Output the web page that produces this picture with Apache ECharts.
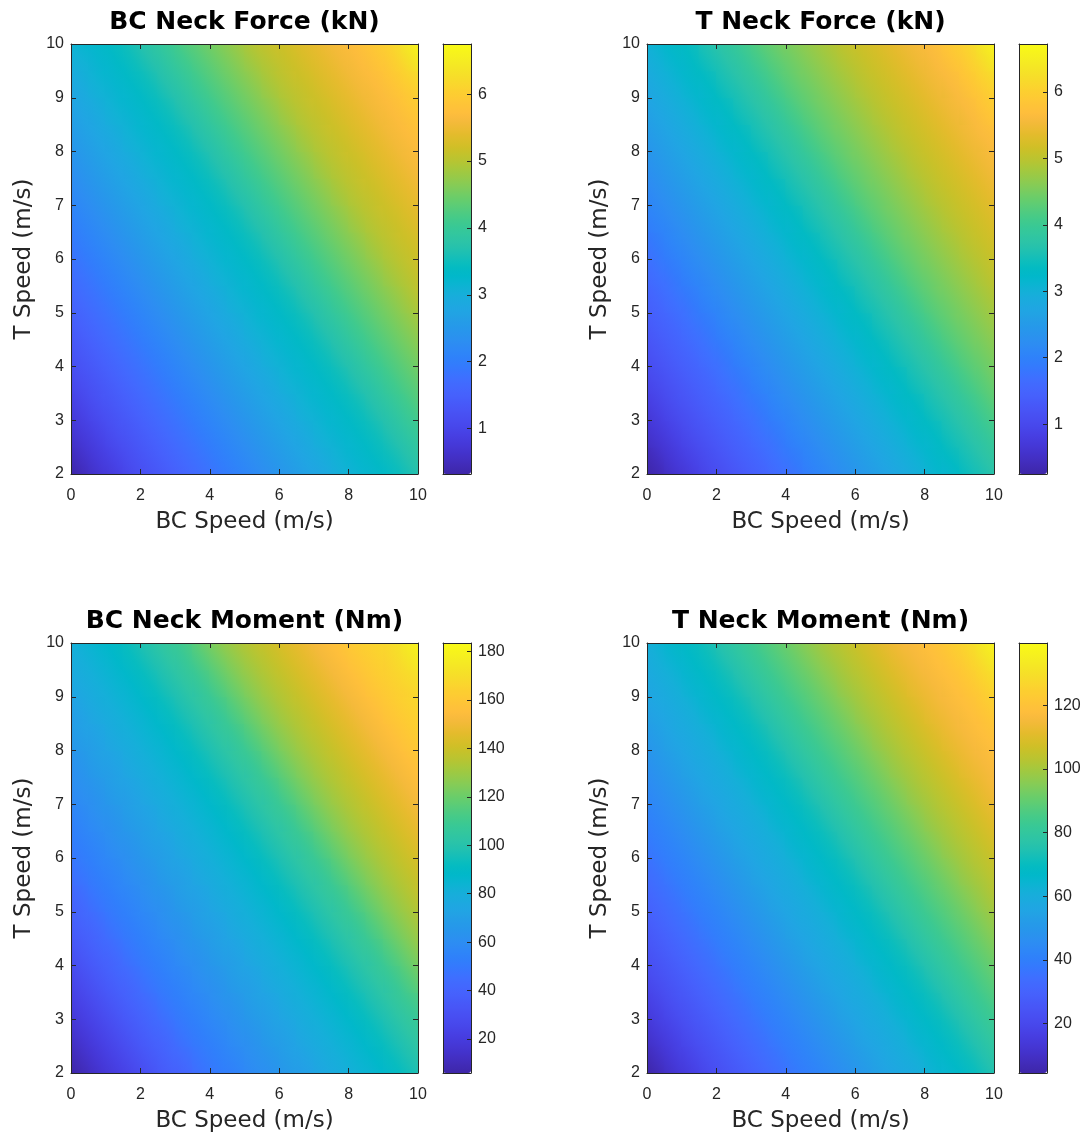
<!DOCTYPE html>
<html>
<head>
<meta charset="utf-8">
<script src="https://cdn.jsdelivr.net/npm/echarts@6/dist/echarts.min.js"></script>
<style>html,body{margin:0;background:#fff}#main{width:1086px;height:1142px}</style>
</head>
<body>
<div id="main"></div>
<script>
// cell centres (m/s)
var xCells = [0.25,0.75,1.25,1.75,2.25,2.75,3.25,3.75,4.25,4.75,5.25,5.75,6.25,6.75,7.25,7.75,8.25,8.75,9.25,9.75];
var yCells = [2.25,2.75,3.25,3.75,4.25,4.75,5.25,5.75,6.25,6.75,7.25,7.75,8.25,8.75,9.25,9.75];

var titles = ['BC Neck Force (kN)', 'T Neck Force (kN)', 'BC Neck Moment (Nm)', 'T Neck Moment (Nm)'];
var colorMin = [0.32, 0.25, 6, 4.5];
var colorMax = [6.75, 6.72, 183.5, 139.5];
var forceTicks = [1,2,3,4,5,6];
var bcMomentTicks = [20,40,60,80,100,120,140,160,180];
var tMomentTicks = [20,40,60,80,100,120];

// rows go from T Speed 2.25 (bottom) up to 9.75 (top), columns BC Speed 0.25 .. 9.75
var bcForce = [
  [0.55,0.77,0.96,1.16,1.32,1.48,1.64,1.80,1.96,2.12,2.28,2.44,2.60,2.76,2.92,3.09,3.21,3.34,3.50,3.70],
  [0.77,0.96,1.16,1.32,1.48,1.64,1.80,1.96,2.12,2.28,2.44,2.60,2.76,2.92,3.09,3.21,3.34,3.50,3.70,3.89],
  [0.96,1.16,1.32,1.48,1.64,1.80,1.96,2.12,2.28,2.44,2.60,2.76,2.92,3.09,3.21,3.34,3.50,3.70,3.89,4.11],
  [1.16,1.32,1.48,1.64,1.80,1.96,2.12,2.28,2.44,2.60,2.76,2.92,3.09,3.21,3.34,3.50,3.70,3.89,4.11,4.31],
  [1.32,1.48,1.64,1.80,1.96,2.12,2.28,2.44,2.60,2.76,2.92,3.09,3.21,3.34,3.50,3.70,3.89,4.11,4.31,4.50],
  [1.48,1.64,1.80,1.96,2.12,2.28,2.44,2.60,2.76,2.92,3.09,3.21,3.34,3.50,3.70,3.89,4.11,4.31,4.50,4.69],
  [1.64,1.80,1.96,2.12,2.28,2.44,2.60,2.76,2.92,3.09,3.21,3.34,3.50,3.70,3.89,4.11,4.31,4.50,4.69,4.89],
  [1.80,1.96,2.12,2.28,2.44,2.60,2.76,2.92,3.09,3.21,3.34,3.50,3.70,3.89,4.11,4.31,4.50,4.69,4.89,5.05],
  [1.96,2.12,2.28,2.44,2.60,2.76,2.92,3.09,3.21,3.34,3.50,3.70,3.89,4.11,4.31,4.50,4.69,4.89,5.05,5.17],
  [2.12,2.28,2.44,2.60,2.76,2.92,3.09,3.21,3.34,3.50,3.70,3.89,4.11,4.31,4.50,4.69,4.89,5.05,5.17,5.30],
  [2.28,2.44,2.60,2.76,2.92,3.09,3.21,3.34,3.50,3.70,3.89,4.11,4.31,4.50,4.69,4.89,5.05,5.17,5.30,5.43],
  [2.44,2.60,2.76,2.92,3.09,3.21,3.34,3.50,3.70,3.89,4.11,4.31,4.50,4.69,4.89,5.05,5.17,5.30,5.43,5.56],
  [2.60,2.76,2.92,3.09,3.21,3.34,3.50,3.70,3.89,4.11,4.31,4.50,4.69,4.89,5.05,5.17,5.30,5.43,5.56,5.69],
  [2.76,2.92,3.09,3.21,3.34,3.50,3.70,3.89,4.11,4.31,4.50,4.69,4.89,5.05,5.17,5.30,5.43,5.56,5.69,5.85],
  [2.92,3.09,3.21,3.34,3.50,3.70,3.89,4.11,4.31,4.50,4.69,4.89,5.05,5.17,5.30,5.43,5.56,5.69,5.85,6.04],
  [3.09,3.21,3.34,3.50,3.70,3.89,4.11,4.31,4.50,4.69,4.89,5.05,5.17,5.30,5.43,5.56,5.69,5.85,6.04,6.33]
];
var tForce = [
  [0.44,0.67,0.86,1.06,1.22,1.38,1.54,1.71,1.87,2.06,2.22,2.39,2.55,2.71,2.87,3.03,3.19,3.32,3.52,3.71],
  [0.67,0.86,1.06,1.22,1.38,1.54,1.71,1.87,2.06,2.22,2.39,2.55,2.71,2.87,3.03,3.19,3.32,3.52,3.71,3.91],
  [0.86,1.06,1.22,1.38,1.54,1.71,1.87,2.06,2.22,2.39,2.55,2.71,2.87,3.03,3.19,3.32,3.52,3.71,3.91,4.13],
  [1.06,1.22,1.38,1.54,1.71,1.87,2.06,2.22,2.39,2.55,2.71,2.87,3.03,3.19,3.32,3.52,3.71,3.91,4.13,4.33],
  [1.22,1.38,1.54,1.71,1.87,2.06,2.22,2.39,2.55,2.71,2.87,3.03,3.19,3.32,3.52,3.71,3.91,4.13,4.33,4.49],
  [1.38,1.54,1.71,1.87,2.06,2.22,2.39,2.55,2.71,2.87,3.03,3.19,3.32,3.52,3.71,3.91,4.13,4.33,4.49,4.65],
  [1.54,1.71,1.87,2.06,2.22,2.39,2.55,2.71,2.87,3.03,3.19,3.32,3.52,3.71,3.91,4.13,4.33,4.49,4.65,4.81],
  [1.71,1.87,2.06,2.22,2.39,2.55,2.71,2.87,3.03,3.19,3.32,3.52,3.71,3.91,4.13,4.33,4.49,4.65,4.81,4.97],
  [1.87,2.06,2.22,2.39,2.55,2.71,2.87,3.03,3.19,3.32,3.52,3.71,3.91,4.13,4.33,4.49,4.65,4.81,4.97,5.10],
  [2.06,2.22,2.39,2.55,2.71,2.87,3.03,3.19,3.32,3.52,3.71,3.91,4.13,4.33,4.49,4.65,4.81,4.97,5.10,5.23],
  [2.22,2.39,2.55,2.71,2.87,3.03,3.19,3.32,3.52,3.71,3.91,4.13,4.33,4.49,4.65,4.81,4.97,5.10,5.23,5.36],
  [2.39,2.55,2.71,2.87,3.03,3.19,3.32,3.52,3.71,3.91,4.13,4.33,4.49,4.65,4.81,4.97,5.10,5.23,5.36,5.49],
  [2.55,2.71,2.87,3.03,3.19,3.32,3.52,3.71,3.91,4.13,4.33,4.49,4.65,4.81,4.97,5.10,5.23,5.36,5.49,5.62],
  [2.71,2.87,3.03,3.19,3.32,3.52,3.71,3.91,4.13,4.33,4.49,4.65,4.81,4.97,5.10,5.23,5.36,5.49,5.62,5.81],
  [2.87,3.03,3.19,3.32,3.52,3.71,3.91,4.13,4.33,4.49,4.65,4.81,4.97,5.10,5.23,5.36,5.49,5.62,5.81,6.01],
  [3.03,3.19,3.32,3.52,3.71,3.91,4.13,4.33,4.49,4.65,4.81,4.97,5.10,5.23,5.36,5.49,5.62,5.81,6.01,6.30]
];
var bcMoment = [
  [11.3,17.5,22.9,28.2,33.5,38.8,43.3,48.6,53.0,56.6,61.0,64.6,69.0,72.6,77.0,80.6,84.1,87.7,92.1,97.4],
  [17.5,22.9,28.2,33.5,38.8,43.3,48.6,53.0,56.6,61.0,64.6,69.0,72.6,77.0,80.6,84.1,87.7,92.1,97.4,102.7],
  [22.9,28.2,33.5,38.8,43.3,48.6,53.0,56.6,61.0,64.6,69.0,72.6,77.0,80.6,84.1,87.7,92.1,97.4,102.7,108.1],
  [28.2,33.5,38.8,43.3,48.6,53.0,56.6,61.0,64.6,69.0,72.6,77.0,80.6,84.1,87.7,92.1,97.4,102.7,108.1,115.2],
  [33.5,38.8,43.3,48.6,53.0,56.6,61.0,64.6,69.0,72.6,77.0,80.6,84.1,87.7,92.1,97.4,102.7,108.1,115.2,122.3],
  [38.8,43.3,48.6,53.0,56.6,61.0,64.6,69.0,72.6,77.0,80.6,84.1,87.7,92.1,97.4,102.7,108.1,115.2,122.3,128.5],
  [43.3,48.6,53.0,56.6,61.0,64.6,69.0,72.6,77.0,80.6,84.1,87.7,92.1,97.4,102.7,108.1,115.2,122.3,128.5,133.8],
  [48.6,53.0,56.6,61.0,64.6,69.0,72.6,77.0,80.6,84.1,87.7,92.1,97.4,102.7,108.1,115.2,122.3,128.5,133.8,138.2],
  [53.0,56.6,61.0,64.6,69.0,72.6,77.0,80.6,84.1,87.7,92.1,97.4,102.7,108.1,115.2,122.3,128.5,133.8,138.2,142.7],
  [56.6,61.0,64.6,69.0,72.6,77.0,80.6,84.1,87.7,92.1,97.4,102.7,108.1,115.2,122.3,128.5,133.8,138.2,142.7,147.1],
  [61.0,64.6,69.0,72.6,77.0,80.6,84.1,87.7,92.1,97.4,102.7,108.1,115.2,122.3,128.5,133.8,138.2,142.7,147.1,151.6],
  [64.6,69.0,72.6,77.0,80.6,84.1,87.7,92.1,97.4,102.7,108.1,115.2,122.3,128.5,133.8,138.2,142.7,147.1,151.6,156.0],
  [69.0,72.6,77.0,80.6,84.1,87.7,92.1,97.4,102.7,108.1,115.2,122.3,128.5,133.8,138.2,142.7,147.1,151.6,156.0,160.4],
  [72.6,77.0,80.6,84.1,87.7,92.1,97.4,102.7,108.1,115.2,122.3,128.5,133.8,138.2,142.7,147.1,151.6,156.0,160.4,164.0],
  [77.0,80.6,84.1,87.7,92.1,97.4,102.7,108.1,115.2,122.3,128.5,133.8,138.2,142.7,147.1,151.6,156.0,160.4,164.0,167.5],
  [80.6,84.1,87.7,92.1,97.4,102.7,108.1,115.2,122.3,128.5,133.8,138.2,142.7,147.1,151.6,156.0,160.4,164.0,167.5,173.7]
];
var tMoment = [
  [9.2,14.0,18.1,22.1,25.5,28.9,32.3,35.7,39.1,42.4,45.8,49.2,52.6,56.0,58.7,61.4,64.8,67.5,70.9,75.0],
  [14.0,18.1,22.1,25.5,28.9,32.3,35.7,39.1,42.4,45.8,49.2,52.6,56.0,58.7,61.4,64.8,67.5,70.9,75.0,79.0],
  [18.1,22.1,25.5,28.9,32.3,35.7,39.1,42.4,45.8,49.2,52.6,56.0,58.7,61.4,64.8,67.5,70.9,75.0,79.0,83.1],
  [22.1,25.5,28.9,32.3,35.7,39.1,42.4,45.8,49.2,52.6,56.0,58.7,61.4,64.8,67.5,70.9,75.0,79.0,83.1,87.2],
  [25.5,28.9,32.3,35.7,39.1,42.4,45.8,49.2,52.6,56.0,58.7,61.4,64.8,67.5,70.9,75.0,79.0,83.1,87.2,91.2],
  [28.9,32.3,35.7,39.1,42.4,45.8,49.2,52.6,56.0,58.7,61.4,64.8,67.5,70.9,75.0,79.0,83.1,87.2,91.2,95.3],
  [32.3,35.7,39.1,42.4,45.8,49.2,52.6,56.0,58.7,61.4,64.8,67.5,70.9,75.0,79.0,83.1,87.2,91.2,95.3,99.4],
  [35.7,39.1,42.4,45.8,49.2,52.6,56.0,58.7,61.4,64.8,67.5,70.9,75.0,79.0,83.1,87.2,91.2,95.3,99.4,102.7],
  [39.1,42.4,45.8,49.2,52.6,56.0,58.7,61.4,64.8,67.5,70.9,75.0,79.0,83.1,87.2,91.2,95.3,99.4,102.7,106.1],
  [42.4,45.8,49.2,52.6,56.0,58.7,61.4,64.8,67.5,70.9,75.0,79.0,83.1,87.2,91.2,95.3,99.4,102.7,106.1,109.5],
  [45.8,49.2,52.6,56.0,58.7,61.4,64.8,67.5,70.9,75.0,79.0,83.1,87.2,91.2,95.3,99.4,102.7,106.1,109.5,112.9],
  [49.2,52.6,56.0,58.7,61.4,64.8,67.5,70.9,75.0,79.0,83.1,87.2,91.2,95.3,99.4,102.7,106.1,109.5,112.9,115.6],
  [52.6,56.0,58.7,61.4,64.8,67.5,70.9,75.0,79.0,83.1,87.2,91.2,95.3,99.4,102.7,106.1,109.5,112.9,115.6,118.3],
  [56.0,58.7,61.4,64.8,67.5,70.9,75.0,79.0,83.1,87.2,91.2,95.3,99.4,102.7,106.1,109.5,112.9,115.6,118.3,121.7],
  [58.7,61.4,64.8,67.5,70.9,75.0,79.0,83.1,87.2,91.2,95.3,99.4,102.7,106.1,109.5,112.9,115.6,118.3,121.7,125.8],
  [61.4,64.8,67.5,70.9,75.0,79.0,83.1,87.2,91.2,95.3,99.4,102.7,106.1,109.5,112.9,115.6,118.3,121.7,125.8,131.2]
];

var grids = [bcForce, tForce, bcMoment, tMoment];
var tickSets = [forceTicks, forceTicks, bcMomentTicks, tMomentTicks];

// matlab parula
var parula = ['#3e26a8','#402ab4','#422ec0','#4332cb','#4537d5','#463cde','#4741e5','#4747eb',
  '#484df0','#4852f4','#4758f8','#465efb','#4563fd','#4269fe','#3e6fff','#3875fe',
  '#327cfc','#2f81fa','#2e87f7','#2d8cf3','#2b91ef','#2796eb','#259be8','#23a0e5',
  '#20a5e3','#1ca9df','#18addb','#12b1d6','#08b5d0','#01b8ca','#02bac3','#0bbdbd',
  '#19bfb6','#24c1ae','#2cc4a7','#31c69f','#37c897','#3fca8e','#4acb84','#57cc7a',
  '#64cd6f','#72cd64','#81cc59','#8fcb4e','#9dc943','#abc739','#b9c431','#c5c22a',
  '#d1bf27','#dcbd29','#e6bb2d','#f0ba36','#f8ba3d','#febe3c','#fec338','#fec934',
  '#fccf30','#fad62d','#f7dc2a','#f5e327','#f5e924','#f6ef20','#f7f51b','#f9fb15'];

var tickFont = '"Liberation Sans", Arial, Helvetica, sans-serif';
var labelFont = '"DejaVu Sans", "Liberation Sans", sans-serif';
var ink = '#262626';
var pos = [[71, 44], [647, 44], [71, 643], [647, 643]];
var W = 347, H = 430;

function hexRgb(h) {
  return [parseInt(h.substr(1, 2), 16), parseInt(h.substr(3, 2), 16), parseInt(h.substr(5, 2), 16)];
}
var parulaRgb = parula.map(hexRgb);

// same linear lookup the colour bar uses
function colourOf(v, p) {
  var t = (v - colorMin[p]) / (colorMax[p] - colorMin[p]);
  t = Math.max(0, Math.min(1, t)) * (parulaRgb.length - 1);
  var i0 = Math.floor(t), i1 = Math.min(i0 + 1, parulaRgb.length - 1), f = t - i0;
  var a = parulaRgb[i0], b = parulaRgb[i1];
  return 'rgb(' + Math.round(a[0] + (b[0] - a[0]) * f) + ',' +
    Math.round(a[1] + (b[1] - a[1]) * f) + ',' + Math.round(a[2] + (b[2] - a[2]) * f) + ')';
}

// each cell is shaded across its width (like shading interp) using the step to its neighbours
function renderCell(params, api) {
  var p = params.seriesIndex;
  var v = api.value(2), dx = api.value(3), dy = api.value(4);
  var c = api.coord([api.value(0), api.value(1)]);
  var s = api.size([0.5, 0.5]);
  var w = s[0], h = s[1];
  var gx = dx / w, gy = -dy / h;
  var gl = Math.sqrt(gx * gx + gy * gy) || 1e-9;
  var ux = gx / gl, uy = gy / gl;
  var r = (w * Math.abs(ux) + h * Math.abs(uy)) / 2;
  var fill = new echarts.graphic.LinearGradient(
    c[0] - ux * r, c[1] - uy * r, c[0] + ux * r, c[1] + uy * r,
    [{offset: 0, color: colourOf(v - gl * r, p)},
     {offset: 0.5, color: colourOf(v, p)},
     {offset: 1, color: colourOf(v + gl * r, p)}], true);
  return {
    type: 'rect',
    shape: {x: c[0] - w / 2 - 0.5, y: c[1] - h / 2 - 0.5, width: w + 1, height: h + 1},
    style: {fill: fill}
  };
}

var gridList = [], xAxes = [], yAxes = [], series = [], vms = [], titleList = [];

function lineAxis(extra) {
  var a = {
    type: 'value', z: 10,
    axisLine: {show: true, onZero: false, lineStyle: {color: ink, width: 1}},
    axisTick: {show: true, inside: true, length: 5, lineStyle: {color: ink}},
    axisLabel: {show: false},
    splitLine: {show: false}
  };
  for (var k in extra) a[k] = extra[k];
  return a;
}

for (var p = 0; p < 4; p++) {
  var L = pos[p][0], T = pos[p][1];
  gridList.push({left: L, top: T, width: W, height: H, outerBoundsMode: 'none'});

  xAxes.push(lineAxis({gridIndex: p, position: 'bottom', min: 0, max: 10, interval: 2,
    axisLabel: {show: true, color: ink, fontSize: 16, fontFamily: tickFont, margin: 14},
    name: 'BC Speed (m/s)', nameLocation: 'middle', nameGap: 37,
    nameTextStyle: {color: ink, fontSize: 23, fontFamily: labelFont}}));
  xAxes.push(lineAxis({gridIndex: p, position: 'top', min: 0, max: 10, interval: 2}));

  yAxes.push(lineAxis({gridIndex: p, position: 'left', min: 2, max: 10, interval: 1,
    axisLabel: {show: true, color: ink, fontSize: 16, fontFamily: tickFont, margin: 7},
    name: 'T Speed (m/s)', nameLocation: 'middle', nameGap: 35,
    nameTextStyle: {color: ink, fontSize: 23, fontFamily: labelFont}}));
  yAxes.push(lineAxis({gridIndex: p, position: 'right', min: 2, max: 10, interval: 1}));

  var g = grids[p];
  var nx = xCells.length, ny = yCells.length;
  var cells = [];
  for (var j = 0; j < ny; j++) {
    for (var i = 0; i < nx; i++) {
      var dx = i === 0 ? g[j][1] - g[j][0] : (i === nx - 1 ? g[j][i] - g[j][i - 1] : (g[j][i + 1] - g[j][i - 1]) / 2);
      var dy = j === 0 ? g[1][i] - g[0][i] : (j === ny - 1 ? g[j][i] - g[j - 1][i] : (g[j + 1][i] - g[j - 1][i]) / 2);
      cells.push([xCells[i], yCells[j], g[j][i], dx, dy]);
    }
  }
  series.push({
    type: 'custom', xAxisIndex: 2 * p, yAxisIndex: 2 * p,
    data: cells, renderItem: renderCell, clip: true, silent: true, progressive: 0
  });

  titleList.push({
    text: titles[p], left: L + W / 2, top: T - 34, textAlign: 'center', padding: 0,
    textStyle: {fontSize: 25, fontWeight: 'bold', color: '#000', fontFamily: labelFont}
  });

  vms.push({
    type: 'continuous', seriesIndex: p, dimension: 2,
    min: colorMin[p], max: colorMax[p],
    inRange: {color: parula},
    orient: 'vertical', left: L + 372, top: T,
    itemWidth: 28, itemHeight: H, padding: 0,
    calculable: false, hoverLink: false, text: null
  });
}

// colorbar frames and ticks
for (var c = 0; c < 4; c++) {
  var gi = 4 + c;
  gridList.push({left: pos[c][0] + 372, top: pos[c][1], width: 28, height: H, outerBoundsMode: 'none'});
  xAxes.push(lineAxis({gridIndex: gi, position: 'bottom', min: 0, max: 1, axisTick: {show: false}}));
  xAxes.push(lineAxis({gridIndex: gi, position: 'top', min: 0, max: 1, axisTick: {show: false}}));
  yAxes.push(lineAxis({gridIndex: gi, position: 'right', min: colorMin[c], max: colorMax[c],
    axisTick: {show: true, inside: true, length: 4, lineStyle: {color: ink}, customValues: tickSets[c]},
    axisLabel: {show: true, color: ink, fontSize: 16, fontFamily: tickFont, margin: 7, customValues: tickSets[c]}}));
  yAxes.push(lineAxis({gridIndex: gi, position: 'left', min: colorMin[c], max: colorMax[c], axisTick: {show: false}}));
}

var chart = echarts.init(document.getElementById('main'), null, {renderer: 'canvas'});
chart.setOption({
  animation: false,
  backgroundColor: '#fff',
  title: titleList,
  grid: gridList,
  xAxis: xAxes,
  yAxis: yAxes,
  visualMap: vms,
  series: series
});
</script>
</body>
</html>
